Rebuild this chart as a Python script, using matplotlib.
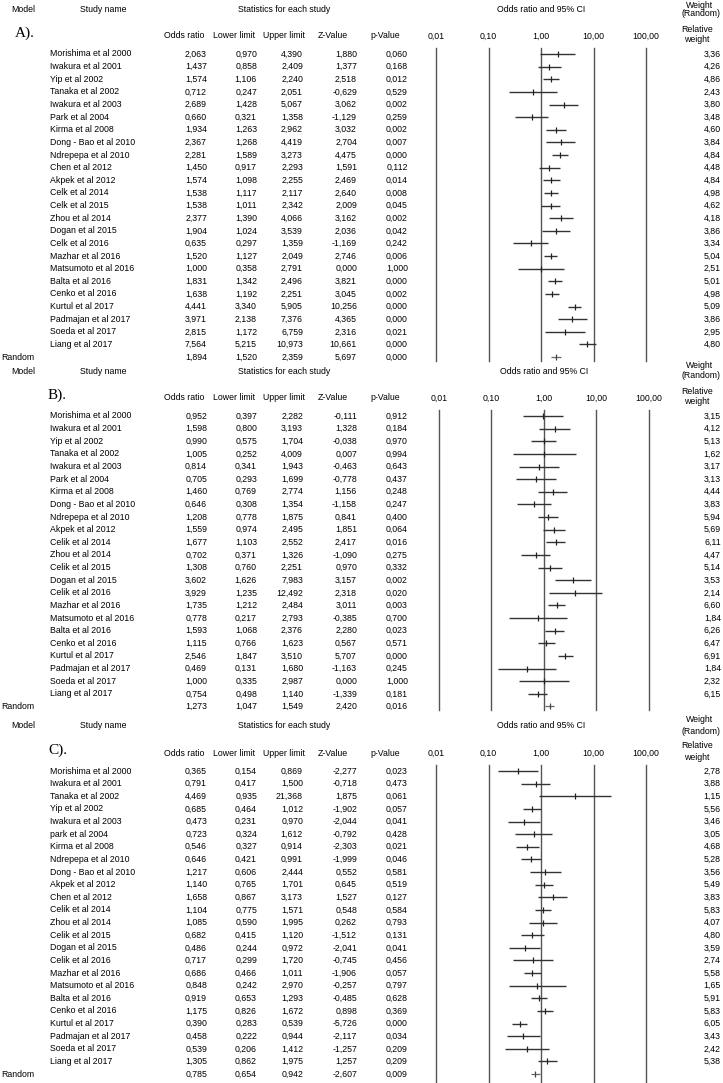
import matplotlib
matplotlib.use("Agg")
import matplotlib.pyplot as plt
from matplotlib.transforms import blended_transform_factory

W, H = 723, 1083
ROW_H = 12.63
FS = 6.3
FONT = "Liberation Sans"

# ---- panel A ----
names_a = ["Morishima et al 2000", "Iwakura et al 2001", "Yip et al 2002", "Tanaka et al 2002",
           "Iwakura et al 2003", "Park et al 2004", "Kirma et al 2008", "Dong - Bao et al 2010",
           "Ndrepepa et al 2010", "Chen et al 2012", "Akpek et al 2012", "Celk et al 2014",
           "Celk et al 2015", "Zhou et al 2014", "Dogan et al 2015", "Celk et al 2016",
           "Mazhar et al 2016", "Matsumoto et al 2016", "Balta et al 2016", "Cenko et al 2016",
           "Kurtul et al 2017", "Padmajan et al 2017", "Soeda et al 2017", "Liang et al 2017"]
or_a = [2.063, 1.437, 1.574, 0.712, 2.689, 0.660, 1.934, 2.367, 2.281, 1.450, 1.574, 1.538,
        1.538, 2.377, 1.904, 0.635, 1.520, 1.000, 1.831, 1.638, 4.441, 3.971, 2.815, 7.564]
ll_a = [0.970, 0.858, 1.106, 0.247, 1.428, 0.321, 1.263, 1.268, 1.589, 0.917, 1.098, 1.117,
        1.011, 1.390, 1.024, 0.297, 1.127, 0.358, 1.342, 1.192, 3.340, 2.138, 1.172, 5.215]
ul_a = [4.390, 2.409, 2.240, 2.051, 5.067, 1.358, 2.962, 4.419, 3.273, 2.293, 2.255, 2.117,
        2.342, 4.066, 3.539, 1.359, 2.049, 2.791, 2.496, 2.251, 5.905, 7.376, 6.759, 10.973]
z_a = [1.880, 1.377, 2.518, -0.629, 3.062, -1.129, 3.032, 2.704, 4.475, 1.591, 2.469, 2.640,
       2.009, 3.162, 2.036, -1.169, 2.746, 0.000, 3.821, 3.045, 10.256, 4.365, 2.316, 10.661]
p_a = [0.060, 0.168, 0.012, 0.529, 0.002, 0.259, 0.002, 0.007, 0.000, 0.112, 0.014, 0.008,
       0.045, 0.002, 0.042, 0.242, 0.006, 1.000, 0.000, 0.002, 0.000, 0.000, 0.021, 0.000]
w_a = [3.36, 4.26, 4.86, 2.43, 3.80, 3.48, 4.60, 3.84, 4.84, 4.48, 4.84, 4.98,
       4.62, 4.18, 3.86, 3.34, 5.04, 2.51, 5.01, 4.98, 5.09, 3.86, 2.95, 4.80]
rand_a = [1.894, 1.520, 2.359, 5.697, 0.000]

# ---- panel B ----
names_b = ["Morishima et al 2000", "Iwakura et al 2001", "Yip et al 2002", "Tanaka et al 2002",
           "Iwakura et al 2003", "Park et al 2004", "Kirma et al 2008", "Dong - Bao et al 2010",
           "Ndrepepa et al 2010", "Akpek et al 2012", "Celik et al 2014", "Zhou et al 2014",
           "Celik et al 2015", "Dogan et al 2015", "Celik et al 2016", "Mazhar et al 2016",
           "Matsumoto et al 2016", "Balta et al 2016", "Cenko et al 2016", "Kurtul et al 2017",
           "Padmajan et al 2017", "Soeda et al 2017", "Liang et al 2017"]
or_b = [0.952, 1.598, 0.990, 1.005, 0.814, 0.705, 1.460, 0.646, 1.208, 1.559, 1.677, 0.702,
        1.308, 3.602, 3.929, 1.735, 0.778, 1.593, 1.115, 2.546, 0.469, 1.000, 0.754]
ll_b = [0.397, 0.800, 0.575, 0.252, 0.341, 0.293, 0.769, 0.308, 0.778, 0.974, 1.103, 0.371,
        0.760, 1.626, 1.235, 1.212, 0.217, 1.068, 0.766, 1.847, 0.131, 0.335, 0.498]
ul_b = [2.282, 3.193, 1.704, 4.009, 1.943, 1.699, 2.774, 1.354, 1.875, 2.495, 2.552, 1.326,
        2.251, 7.983, 12.492, 2.484, 2.793, 2.376, 1.623, 3.510, 1.680, 2.987, 1.140]
z_b = [-0.111, 1.328, -0.038, 0.007, -0.463, -0.778, 1.156, -1.158, 0.841, 1.851, 2.417, -1.090,
       0.970, 3.157, 2.318, 3.011, -0.385, 2.280, 0.567, 5.707, -1.163, 0.000, -1.339]
p_b = [0.912, 0.184, 0.970, 0.994, 0.643, 0.437, 0.248, 0.247, 0.400, 0.064, 0.016, 0.275,
       0.332, 0.002, 0.020, 0.003, 0.700, 0.023, 0.571, 0.000, 0.245, 1.000, 0.181]
w_b = [3.15, 4.12, 5.13, 1.62, 3.17, 3.13, 4.44, 3.83, 5.94, 5.69, 6.11, 4.47,
       5.14, 3.53, 2.14, 6.60, 1.84, 6.26, 6.47, 6.91, 1.84, 2.32, 6.15]
rand_b = [1.273, 1.047, 1.549, 2.420, 0.016]

# ---- panel C ----
names_c = ["Morishima et al 2000", "Iwakura et al 2001", "Tanaka et al 2002", "Yip et al 2002",
           "Iwakura et al 2003", "park et al 2004", "Kirma et al 2008", "Ndrepepa et al 2010",
           "Dong - Bao et al 2010", "Akpek et al 2012", "Chen et al 2012", "Celik et al 2014",
           "Zhou et al 2014", "Celik et al 2015", "Dogan et al 2015", "Celik et al 2016",
           "Mazhar et al 2016", "Matsumoto et al 2016", "Balta et al 2016", "Cenko et al 2016",
           "Kurtul et al 2017", "Padmajan et al 2017", "Soeda et al 2017", "Liang et al 2017"]
or_c = [0.365, 0.791, 4.469, 0.685, 0.473, 0.723, 0.546, 0.646, 1.217, 1.140, 1.658, 1.104,
        1.085, 0.682, 0.486, 0.717, 0.686, 0.848, 0.919, 1.175, 0.390, 0.458, 0.539, 1.305]
ll_c = [0.154, 0.417, 0.935, 0.464, 0.231, 0.324, 0.327, 0.421, 0.606, 0.765, 0.867, 0.775,
        0.590, 0.415, 0.244, 0.299, 0.466, 0.242, 0.653, 0.826, 0.283, 0.222, 0.206, 0.862]
ul_c = [0.869, 1.500, 21.368, 1.012, 0.970, 1.612, 0.914, 0.991, 2.444, 1.701, 3.173, 1.571,
        1.995, 1.120, 0.972, 1.720, 1.011, 2.970, 1.293, 1.672, 0.539, 0.944, 1.412, 1.975]
z_c = [-2.277, -0.718, 1.875, -1.902, -2.044, -0.792, -2.303, -1.999, 0.552, 0.645, 1.527, 0.548,
       0.262, -1.512, -2.041, -0.745, -1.906, -0.257, -0.485, 0.898, -5.726, -2.117, -1.257, 1.257]
p_c = [0.023, 0.473, 0.061, 0.057, 0.041, 0.428, 0.021, 0.046, 0.581, 0.519, 0.127, 0.584,
       0.793, 0.131, 0.041, 0.456, 0.057, 0.797, 0.628, 0.369, 0.000, 0.034, 0.209, 0.209]
w_c = [2.78, 3.88, 1.15, 5.56, 3.46, 3.05, 4.68, 5.28, 3.56, 5.49, 3.83, 5.83,
       4.07, 4.80, 3.59, 2.74, 5.58, 1.65, 5.91, 5.83, 6.05, 3.43, 2.42, 5.38]
rand_c = [0.785, 0.654, 0.942, -2.607, 0.009]

tick_vals = [0.01, 0.1, 1, 10, 100]
tick_labels = ["0,01", "0,10", "1,00", "10,00", "100,00"]
col_heads = ["Odds ratio", "Lower limit", "Upper limit", "Z-Value", "p-Value"]


def fmt(v, d=3):
    return f"{v:.{d}f}".replace(".", ",")


fig = plt.figure(figsize=(W / 100, H / 100), dpi=100)
bg = fig.add_axes([0, 0, 1, 1])
bg.set_xlim(0, W)
bg.set_ylim(H, 0)
bg.axis("off")


def txt(x, y, s, ha="left", **kw):
    kw.setdefault("fontsize", FS)
    kw.setdefault("family", FONT)
    bg.text(x, y, s, ha=ha, va="center", **kw)


def panel(letter, y0, names, ors, lls, uls, zs, ps, ws, rand, x01, bottom=None):
    n = len(names)
    head = y0 - 45
    # header texts
    txt(23, head, "Model", ha="center")
    txt(103, head, "Study name", ha="center")
    txt(284, head, "Statistics for each study", ha="center")
    txt(x01 + 2 * 52.5, head, "Odds ratio and 95% CI", ha="center")
    txt(700, max(head - 6, 5), "Weight", ha="center")
    txt(701, head + 5, "(Random)", ha="center")
    txt(697, head + 20, "Relative", ha="center")
    txt(697, head + 31, "weight", ha="center")
    lx = 15 if letter == "A)." else 48
    txt(lx, y0 - 21, letter, fontsize=11, family="Liberation Serif")
    for cx, s in zip([184, 234, 284, 333, 385], col_heads):
        txt(cx, y0 - 18, s, ha="center")

    # table rows
    right = [207, 257, 303, 357, 408]
    for i in range(n):
        y = y0 + i * ROW_H
        txt(50, y, names[i])
        for rx, v in zip(right, [ors[i], lls[i], uls[i], zs[i], ps[i]]):
            txt(rx, y, fmt(v), ha="right")
        txt(721, y, fmt(ws[i], 2), ha="right")
    yr = y0 + n * ROW_H
    txt(1, yr, "Random")
    for rx, v in zip(right, rand):
        txt(rx, yr, fmt(v), ha="right")

    # forest plot axes
    top_px = y0 - 6
    bot_px = bottom if bottom is not None else yr + 4
    x100 = x01 + 4 * 52.5
    ax = fig.add_axes([x01 / W, 1 - bot_px / H, (x100 - x01) / W, (bot_px - top_px) / H])
    ax.set_xscale("log")
    ax.set_xlim(0.01, 100)
    ax.set_ylim(n + (bot_px - yr) / ROW_H, -6 / ROW_H)
    ax.axis("off")
    for v in tick_vals:
        ax.axvline(v, color="#555555", lw=1.0, clip_on=False)
    rows = list(range(n))
    ax.hlines(rows, lls, uls, color="#333333", lw=1.0)
    ax.plot(ors, rows, "|", ms=5, mew=0.9, color="#222222", linestyle="none")
    ax.hlines([n], [rand[1]], [rand[2]], color="#666666", lw=0.9)
    ax.plot([rand[0]], [n], "|", ms=4, mew=0.9, color="#444444")
    tr = blended_transform_factory(ax.transData, bg.transData)
    for v, s in zip(tick_vals, tick_labels):
        ax.text(v, y0 - 18, s, transform=tr, ha="center", va="center",
                fontsize=FS, family=FONT)


panel("A).", 54, names_a, or_a, ll_a, ul_a, z_a, p_a, w_a, rand_a, 436)
panel("B).", 416, names_b, or_b, ll_b, ul_b, z_b, p_b, w_b, rand_b, 439)
panel("C).", 771, names_c, or_c, ll_c, ul_c, z_c, p_c, w_c, rand_c, 436, bottom=1083)

fig.savefig("out.png", dpi=100)
